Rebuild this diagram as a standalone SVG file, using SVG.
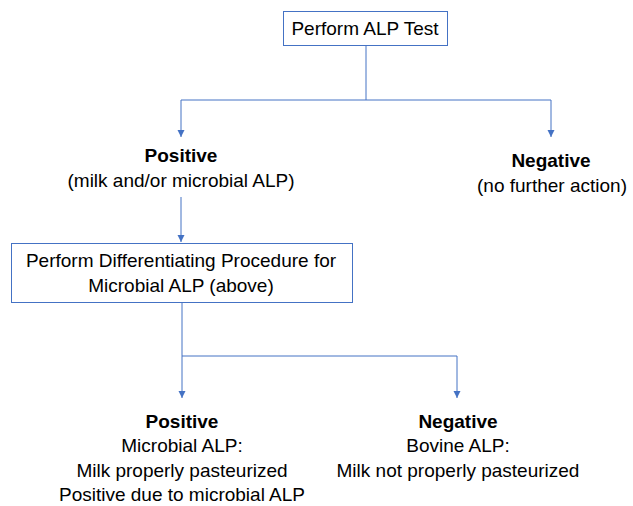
<svg xmlns="http://www.w3.org/2000/svg" width="633" height="506" viewBox="0 0 633 506">
<style>
text{font-family:"Liberation Sans",Arial,sans-serif;font-size:19px;fill:#000;text-anchor:middle}
.b{font-weight:bold}
.box{fill:#fff;stroke:#4472C4;stroke-width:1}
.ln{fill:none;stroke:#4472C4;stroke-width:1}
</style>
<defs>
<marker id="a" markerWidth="9" markerHeight="8" refX="8" refY="4" orient="auto" markerUnits="userSpaceOnUse">
<path d="M1,0.5 L8,4 L1,7.5 Z" fill="#4472C4"/>
</marker>
</defs>
<g id="connectors">
<path class="ln" d="M366,45 V100"/>
<path class="ln" d="M181,100 H551"/>
<path class="ln" d="M181,100 V137" marker-end="url(#a)"/>
<path class="ln" d="M551,100 V137" marker-end="url(#a)"/>
<path class="ln" d="M181,197 V242" marker-end="url(#a)"/>
<path class="ln" d="M182,303 V356 H457"/>
<path class="ln" d="M182,356 V398" marker-end="url(#a)"/>
<path class="ln" d="M457,356 V398" marker-end="url(#a)"/>
</g>
<g id="n1">
<rect class="box" x="283.5" y="11.5" width="164" height="34"/>
<text x="365" y="35">Perform ALP Test</text>
</g>
<g id="n2">
<text class="b" x="181" y="162">Positive</text>
<text x="181" y="187">(milk and/or microbial ALP)</text>
</g>
<g id="n3">
<text class="b" x="551" y="167">Negative</text>
<text x="552" y="192">(no further action)</text>
</g>
<g id="n4">
<rect class="box" x="11.5" y="243.5" width="341" height="59"/>
<text x="181" y="267">Perform Differentiating Procedure for</text>
<text x="181" y="292">Microbial ALP (above)</text>
</g>
<g id="n5">
<text class="b" x="182" y="428">Positive</text>
<text x="182" y="452">Microbial ALP:</text>
<text x="182" y="477">Milk properly pasteurized</text>
<text x="182" y="501">Positive due to microbial ALP</text>
</g>
<g id="n6">
<text class="b" x="458" y="428">Negative</text>
<text x="458" y="452">Bovine ALP:</text>
<text x="458" y="477">Milk not properly pasteurized</text>
</g>
</svg>
